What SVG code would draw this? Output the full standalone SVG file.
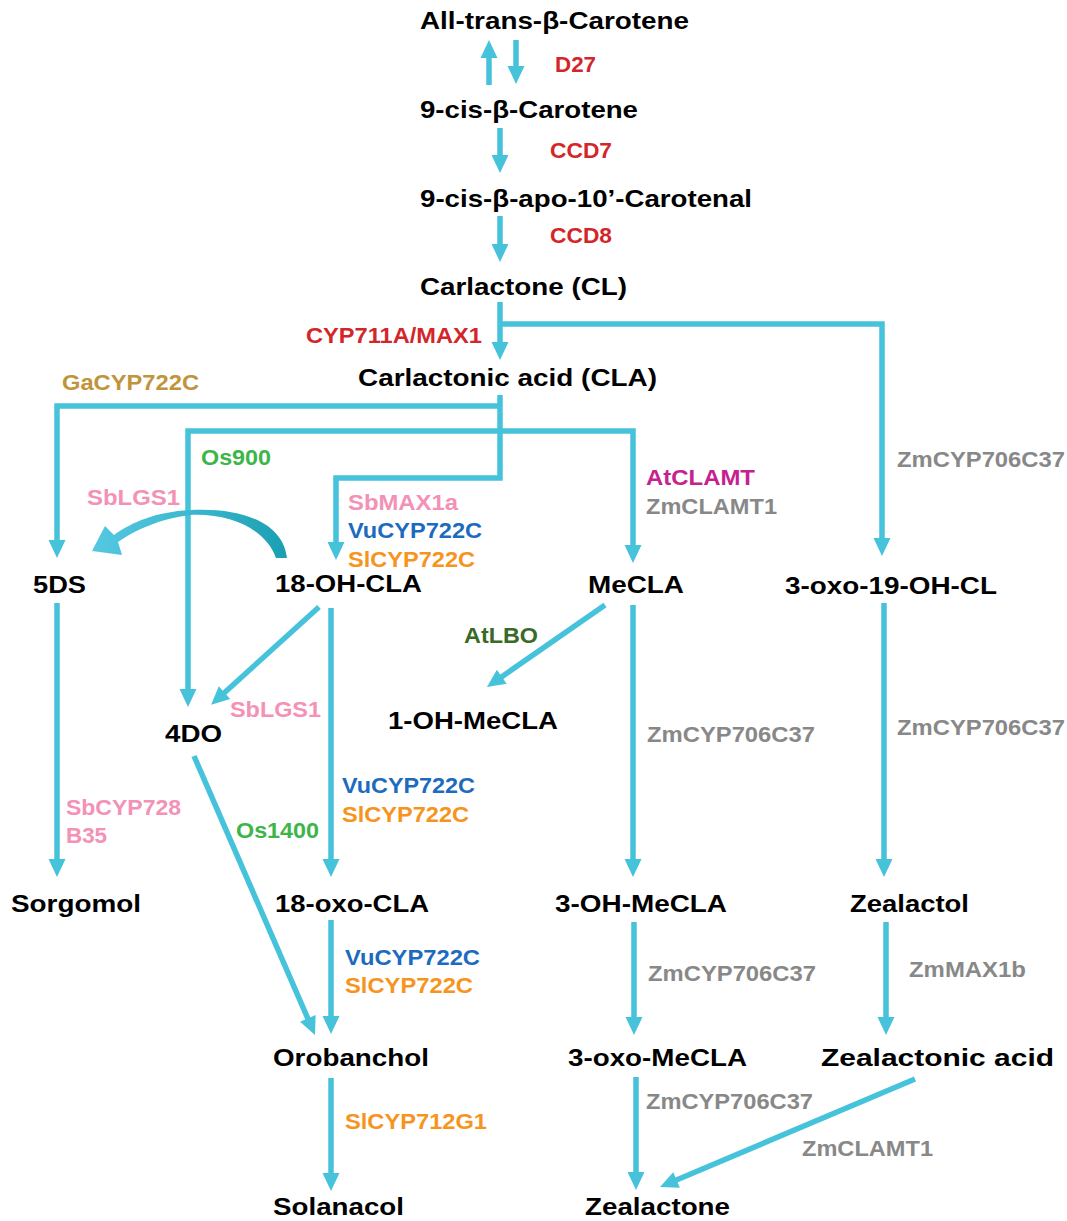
<svg xmlns="http://www.w3.org/2000/svg" width="1067" height="1221" viewBox="0 0 1067 1221">
<style>
text{font-family:"Liberation Sans",Arial,Helvetica,sans-serif;font-weight:bold}
.n{font-size:24px;fill:#000}
.e{font-size:22.5px}
.red{fill:#d3262b}.gold{fill:#c0943a}.grn{fill:#3db549}.pink{fill:#f391b6}.blue{fill:#1c6bbf}.org{fill:#f7941e}.mag{fill:#c6228f}.gray{fill:#888888}.dgrn{fill:#3a6a28}
.c{fill:none;stroke:#46c2db;stroke-width:5.5;stroke-linejoin:miter;marker-end:url(#ah)}
</style>
<defs>
<marker id="ah" markerUnits="userSpaceOnUse" markerWidth="20" markerHeight="18" refX="2" refY="8.5" orient="auto" viewBox="0 0 20 18" overflow="visible">
<path d="M0,0 L18,8.5 L0,17 z" fill="#46c2db"/>
</marker>
<linearGradient id="cg" x1="0" y1="0" x2="1" y2="0">
<stop offset="0" stop-color="#55c8e0"/>
<stop offset="0.5" stop-color="#3cb8d0"/>
<stop offset="1" stop-color="#1a9fb1"/>
</linearGradient>
</defs>
<rect width="1067" height="1221" fill="#ffffff"/>

<g id="connectors">
<path class="c" d="M489,85 L489,56"/>
<path class="c" d="M516,40 L516,68"/>
<path class="c" d="M500,128 L500,157"/>
<path class="c" d="M500,216 L500,246"/>
<path class="c" d="M500,302 L500,344"/>
<path class="c" d="M500,324 L882,324 L882,540"/>
<path class="c" d="M500,395 L500,478 L336,478 L336,544"/>
<path class="c" d="M500,406 L57,406 L57,542"/>
<path class="c" d="M420,431 L188,431 L188,691"/>
<path class="c" d="M420,431 L633,431 L633,547"/>
<path class="c" d="M57,603 L57,861"/>
<path class="c" d="M319,607 L223,694"/>
<path class="c" d="M331,608 L331,861"/>
<path class="c" d="M194,756 L308.6,1020.3"/>
<path class="c" d="M331,920 L331,1018"/>
<path class="c" d="M331,1078 L331,1175"/>
<path class="c" d="M605,605 L500.1,677.9"/>
<path class="c" d="M633,605 L633,861"/>
<path class="c" d="M634,922 L634,1019"/>
<path class="c" d="M636,1077 L636,1174"/>
<path class="c" d="M915,1079 L674.7,1180.8"/>
<path class="c" d="M886,922 L886,1019"/>
<path class="c" d="M884,603 L884,861"/>
<path id="curved-arrow" fill="url(#cg)" d="M287,558 C283,522 240,507 190,510 C156,512 132,522 114,535 L105,526 L92,551 L122,555 L118,542 C137,529 160,519 190,515 C232,513 266,530 276,558 Z"/>
</g>

<g id="node-all-trans-b-carotene"><text class="n" x="420" y="29" textLength="269" lengthAdjust="spacingAndGlyphs">All-trans-β-Carotene</text></g>
<g id="node-9-cis-b-carotene"><text class="n" x="420" y="118" textLength="218" lengthAdjust="spacingAndGlyphs">9-cis-β-Carotene</text></g>
<g id="node-9-cis-b-apo-10-carotenal"><text class="n" x="420" y="207" textLength="332" lengthAdjust="spacingAndGlyphs">9-cis-β-apo-10’-Carotenal</text></g>
<g id="node-carlactone"><text class="n" x="420" y="295" textLength="207" lengthAdjust="spacingAndGlyphs">Carlactone (CL)</text></g>
<g id="node-carlactonic-acid"><text class="n" x="358" y="386" textLength="299" lengthAdjust="spacingAndGlyphs">Carlactonic acid (CLA)</text></g>
<g id="node-5ds"><text class="n" x="33" y="593" textLength="53" lengthAdjust="spacingAndGlyphs">5DS</text></g>
<g id="node-18-oh-cla"><text class="n" x="275" y="592" textLength="147" lengthAdjust="spacingAndGlyphs">18-OH-CLA</text></g>
<g id="node-mecla"><text class="n" x="588" y="593" textLength="96" lengthAdjust="spacingAndGlyphs">MeCLA</text></g>
<g id="node-3-oxo-19-oh-cl"><text class="n" x="785" y="594" textLength="212" lengthAdjust="spacingAndGlyphs">3-oxo-19-OH-CL</text></g>
<g id="node-4do"><text class="n" x="165" y="742" textLength="57" lengthAdjust="spacingAndGlyphs">4DO</text></g>
<g id="node-1-oh-mecla"><text class="n" x="388" y="729" textLength="170" lengthAdjust="spacingAndGlyphs">1-OH-MeCLA</text></g>
<g id="node-sorgomol"><text class="n" x="11" y="912" textLength="130" lengthAdjust="spacingAndGlyphs">Sorgomol</text></g>
<g id="node-18-oxo-cla"><text class="n" x="275" y="912" textLength="154" lengthAdjust="spacingAndGlyphs">18-oxo-CLA</text></g>
<g id="node-3-oh-mecla"><text class="n" x="555" y="912" textLength="172" lengthAdjust="spacingAndGlyphs">3-OH-MeCLA</text></g>
<g id="node-zealactol"><text class="n" x="850" y="912" textLength="119" lengthAdjust="spacingAndGlyphs">Zealactol</text></g>
<g id="node-orobanchol"><text class="n" x="273" y="1066" textLength="156" lengthAdjust="spacingAndGlyphs">Orobanchol</text></g>
<g id="node-3-oxo-mecla"><text class="n" x="568" y="1066" textLength="179" lengthAdjust="spacingAndGlyphs">3-oxo-MeCLA</text></g>
<g id="node-zealactonic-acid"><text class="n" x="821" y="1066" textLength="233" lengthAdjust="spacingAndGlyphs">Zealactonic acid</text></g>
<g id="node-solanacol"><text class="n" x="273" y="1215" textLength="131" lengthAdjust="spacingAndGlyphs">Solanacol</text></g>
<g id="node-zealactone"><text class="n" x="585" y="1215" textLength="145" lengthAdjust="spacingAndGlyphs">Zealactone</text></g>

<g id="enzyme-labels">
<text class="e red" x="555" y="72" textLength="41" lengthAdjust="spacingAndGlyphs">D27</text>
<text class="e red" x="550" y="158" textLength="62" lengthAdjust="spacingAndGlyphs">CCD7</text>
<text class="e red" x="550" y="243" textLength="62" lengthAdjust="spacingAndGlyphs">CCD8</text>
<text class="e red" x="306" y="343" textLength="176" lengthAdjust="spacingAndGlyphs">CYP711A/MAX1</text>
<text class="e gold" x="62" y="390" textLength="137" lengthAdjust="spacingAndGlyphs">GaCYP722C</text>
<text class="e grn" x="201" y="465" textLength="70" lengthAdjust="spacingAndGlyphs">Os900</text>
<text class="e pink" x="87" y="505" textLength="93" lengthAdjust="spacingAndGlyphs">SbLGS1</text>
<text class="e pink" x="348" y="510" textLength="110" lengthAdjust="spacingAndGlyphs">SbMAX1a</text>
<text class="e blue" x="348" y="538" textLength="134" lengthAdjust="spacingAndGlyphs">VuCYP722C</text>
<text class="e org" x="348" y="567" textLength="127" lengthAdjust="spacingAndGlyphs">SlCYP722C</text>
<text class="e mag" x="646" y="485" textLength="109" lengthAdjust="spacingAndGlyphs">AtCLAMT</text>
<text class="e gray" x="646" y="514" textLength="131" lengthAdjust="spacingAndGlyphs">ZmCLAMT1</text>
<text class="e gray" x="897" y="467" textLength="168" lengthAdjust="spacingAndGlyphs">ZmCYP706C37</text>
<text class="e dgrn" x="464" y="643" textLength="74" lengthAdjust="spacingAndGlyphs">AtLBO</text>
<text class="e pink" x="230" y="717" textLength="91" lengthAdjust="spacingAndGlyphs">SbLGS1</text>
<text class="e gray" x="647" y="742" textLength="168" lengthAdjust="spacingAndGlyphs">ZmCYP706C37</text>
<text class="e gray" x="897" y="735" textLength="168" lengthAdjust="spacingAndGlyphs">ZmCYP706C37</text>
<text class="e pink" x="66" y="815" textLength="115" lengthAdjust="spacingAndGlyphs">SbCYP728</text>
<text class="e pink" x="66" y="843" textLength="41" lengthAdjust="spacingAndGlyphs">B35</text>
<text class="e grn" x="236" y="838" textLength="83" lengthAdjust="spacingAndGlyphs">Os1400</text>
<text class="e blue" x="342" y="793" textLength="133" lengthAdjust="spacingAndGlyphs">VuCYP722C</text>
<text class="e org" x="342" y="822" textLength="127" lengthAdjust="spacingAndGlyphs">SlCYP722C</text>
<text class="e blue" x="345" y="965" textLength="135" lengthAdjust="spacingAndGlyphs">VuCYP722C</text>
<text class="e org" x="345" y="993" textLength="128" lengthAdjust="spacingAndGlyphs">SlCYP722C</text>
<text class="e org" x="345" y="1129" textLength="142" lengthAdjust="spacingAndGlyphs">SlCYP712G1</text>
<text class="e gray" x="648" y="981" textLength="168" lengthAdjust="spacingAndGlyphs">ZmCYP706C37</text>
<text class="e gray" x="909" y="977" textLength="117" lengthAdjust="spacingAndGlyphs">ZmMAX1b</text>
<text class="e gray" x="646" y="1109" textLength="167" lengthAdjust="spacingAndGlyphs">ZmCYP706C37</text>
<text class="e gray" x="802" y="1156" textLength="131" lengthAdjust="spacingAndGlyphs">ZmCLAMT1</text>
</g>
</svg>
